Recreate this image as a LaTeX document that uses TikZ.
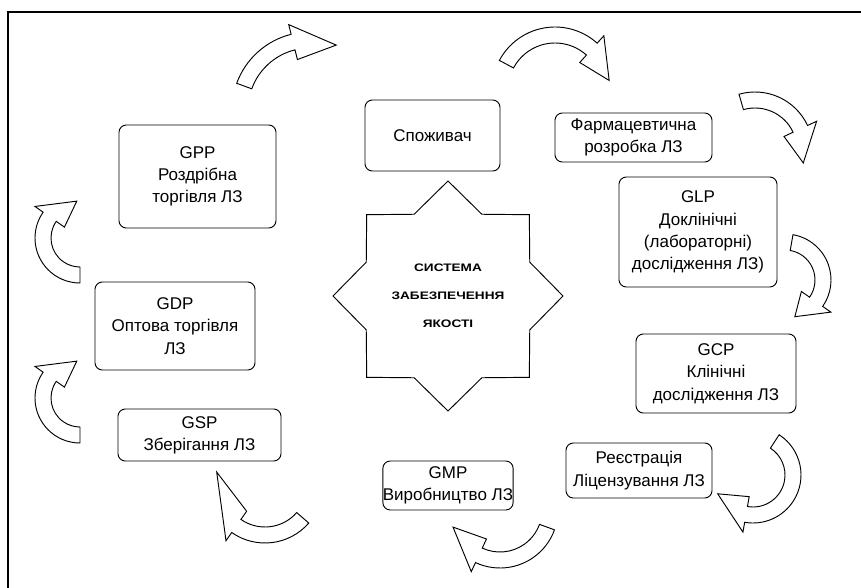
\documentclass[tikz,border=0pt]{standalone}
\usepackage{fontspec}
\setmainfont{Liberation Sans}
\newfontfamily\widefont[FakeStretch=1.25]{Liberation Sans}
\usetikzlibrary{calc,shapes.geometric}

% curved block arrow: centre, radius, start angle, base angle, tip angle
\newcommand{\bentarrow}[5]{%
  \draw[blockarrow] ($(#1)+({#3}:{#2+8})$) arc[start angle=#3, end angle=#4, radius=#2+8]
    -- ($(#1)+({#4}:{#2+18})$) -- ($(#1)+({#5}:{#2})$) -- ($(#1)+({#4}:{#2-18})$)
    -- ($(#1)+({#4}:{#2-8})$) arc[start angle=#4, end angle=#3, radius=#2-8] -- cycle;}

\begin{document}
\begin{tikzpicture}[
    x=0.03cm, y=-0.03cm,
    every node/.style={font=\fontsize{14.5}{19}\selectfont},
    box/.style={draw, rounded corners=0.22cm, line width=0.8pt, align=center, inner sep=0pt},
    qstar/.style={draw, line width=0.8pt, star, star points=8, star point ratio=1.3,
                  minimum size=6.9cm, inner sep=0pt, align=center,
                  font=\widefont\fontsize{9.3}{24}\selectfont\bfseries},
    blockarrow/.style={draw, line width=0.8pt, fill=white, line join=miter}
]
\useasboundingbox (0,0) rectangle (861,588);
\draw[line width=0.9pt] (8,588) -- (8,12) -- (861,12);

\node[qstar] (qms) at (448,296) {СИСТЕМА\\ЗАБЕЗПЕЧЕННЯ\\ЯКОСТІ};

\node[box, minimum width=4.05cm, minimum height=2.13cm] (spozh) at (432.5,135.5) {Споживач};
\node[box, minimum width=4.71cm, minimum height=1.47cm] (farm) at (633.5,137.5) {Фармацевтична\\розробка ЛЗ};
\node[box, minimum width=4.74cm, minimum height=3.3cm] (glp) at (698,232) {GLP\\Доклінічні\\(лабораторні)\\дослідження ЛЗ)};
\node[box, minimum width=4.8cm, minimum height=2.37cm] (gcp) at (716,373.5) {GCP\\Клінічні\\дослідження ЛЗ};
\node[box, minimum width=4.38cm, minimum height=1.65cm] (reg) at (639,470.5) {Реєстрація\\Ліцензування ЛЗ};
\node[box, minimum width=3.9cm, minimum height=1.47cm] (gmp) at (448,485.5) {GMP\\Виробництво ЛЗ};
\node[box, minimum width=4.89cm, minimum height=1.56cm] (gsp) at (199.5,435) {GSP\\Зберігання ЛЗ};
\node[box, minimum width=4.8cm, minimum height=2.64cm] (gdp) at (175,326) {GDP\\Оптова торгівля\\ЛЗ};
\node[box, minimum width=4.71cm, minimum height=3.09cm] (gpp) at (197.5,176.5) {GPP\\Роздрібна\\торгівля ЛЗ};

% arrows round the ring
\coordinate (c1) at (310,110);
\coordinate (c2) at (555,90);
\coordinate (c3) at (755,150);
\coordinate (c4) at (785,280);
\coordinate (c5) at (753,475);
\coordinate (c6) at (500,510);
\coordinate (c7) at (265,485);
\coordinate (c8) at (80,398);
\coordinate (c9) at (80,238);
\bentarrow{c1}{70}{200}{256}{292}
\bentarrow{c2}{55}{208}{312}{350}
\bentarrow{c3}{50}{254}{335}{375}
\bentarrow{c4}{38}{-80}{35}{75}
\bentarrow{c5}{40}{-57}{100}{152}
\bentarrow{c6}{50}{20}{115}{160}
\bentarrow{c7}{50}{41}{125}{195}
\bentarrow{c8}{37}{90}{215}{265}
\bentarrow{c9}{37}{90}{215}{265}
\end{tikzpicture}
\end{document}
